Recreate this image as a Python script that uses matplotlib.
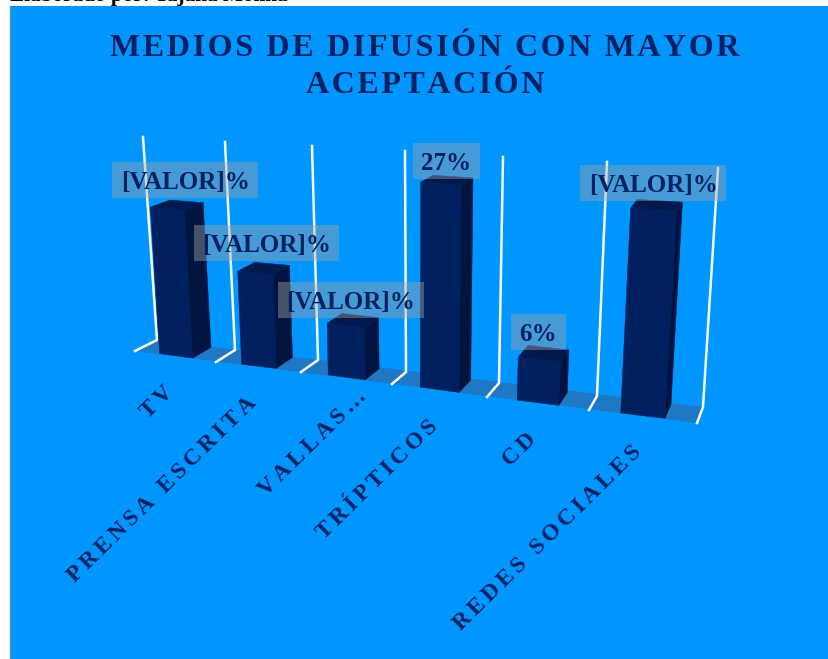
import numpy as np
import matplotlib
matplotlib.use("Agg")
import matplotlib.pyplot as plt
from matplotlib.patches import Rectangle

# ---- data ----
categories = ["TV", "PRENSA ESCRITA", "VALLAS…", "TRÍPTICOS", "CD", "REDES SOCIALES"]
values = [21, 13, 7, 27, 5.5, 25.5]
value_labels = ["[VALOR]%", "[VALOR]%", "[VALOR]%", "27%", "6%", "[VALOR]%"]
title_lines = ["MEDIOS DE DIFUSIÓN CON MAYOR", "ACEPTACIÓN"]
source_note = "Elaborado por: Tajana Molina"
value_max = 30

# ---- perspective layout (pixel frame of the 3-D scene) ----
slots = np.arange(7)
front_x = [135, 216, 301, 392, 487, 589, 697]
front_y = [351, 362, 372, 384, 397, 410, 423]
back_x = [157, 235, 318, 406, 499, 597, 703]
back_y = [340, 350, 360, 372, 383, 396, 407]
top_x = [143, 225, 312, 405, 503, 607, 718]
top_y = [137, 142, 146, 151, 157, 162, 168]
label_dx = [-2.5, -6.5, -10.5, -7.5, -11, -7.5]
label_dy = [2, 2, 8, 8, 8, 6]
cat_shift = [0, 0, 22, 0, 0, 0]

BG = "#0096FF"
FLOOR = "#1F78C4"
NAVY = "#002060"
SIDE = "#00143F"
TOP = "#001A4E"
SERIF = ["Liberation Serif", "DejaVu Serif"]
HS = "\u200a"


def spaced(s, n=1):
    return (HS * n).join(s)


def project(u, d, v):
    """Map slot position u, depth d (0 front, 1 back) and value v to pixels."""
    fx, fy = np.interp(u, slots, front_x), np.interp(u, slots, front_y)
    bx, by = np.interp(u, slots, back_x), np.interp(u, slots, back_y)
    tx, ty = np.interp(u, slots, top_x), np.interp(u, slots, top_y)
    k = (v / value_max) * (1 + 0.025 * (1 - d))
    return (fx + (bx - fx) * d + k * (tx - bx), fy + (by - fy) * d + k * (ty - by))


fig = plt.figure(figsize=(8.29, 6.59), dpi=100, facecolor="white")
ax = fig.add_axes([0, 0, 1, 1])
ax.set_xlim(0, 829)
ax.set_ylim(659, 0)
ax.axis("off")
ax.add_patch(Rectangle((10, 6), 819, 653, fc=BG, ec="none", zorder=0))
ax.plot([10, 10], [6, 659], color="#5A8FC8", lw=1, zorder=0.5)

# floor
ax.fill([project(0, 0, 0)[0], project(0, 1, 0)[0], project(6, 1, 0)[0], project(6, 0, 0)[0]],
        [project(0, 0, 0)[1], project(0, 1, 0)[1], project(6, 1, 0)[1], project(6, 0, 0)[1]],
        fc=FLOOR, ec="none", zorder=1)

# grid walls
for s in slots:
    pts = [project(s, 0, 0), project(s, 1, 0), project(s, 1, value_max)]
    ax.plot(*zip(*pts), color="white", lw=1.8, zorder=2, solid_joinstyle="miter")

# bars
U0, U1, D0, D1 = 0.29, 0.70, 0.05, 0.97
for i, v in enumerate(values):
    a, b = i + U0, i + U1
    fl0, fr0, br0 = project(a, D0, 0), project(b, D0, 0), project(b, D1, 0)
    fl1, fr1, br1, bl1 = project(a, D0, v), project(b, D0, v), project(b, D1, v), project(a, D1, v)
    ax.fill(*zip(fl0, fr0, fr1, fl1), fc=NAVY, ec=NAVY, lw=0.3, zorder=3)
    ax.fill(*zip(fr0, br0, br1, fr1), fc=SIDE, ec=SIDE, lw=0.3, zorder=3)
    ax.fill(*zip(fl1, fr1, br1, bl1), fc=TOP, ec=TOP, lw=0.3, zorder=3)

# value labels with fixed-height translucent boxes
renderer = fig.canvas.get_renderer()
for i, (v, lab) in enumerate(zip(values, value_labels)):
    cx, cy = project(i + 0.5, 1.0, v)
    cx += label_dx[i]
    ytop = cy - 5 + label_dy[i]
    t = ax.text(cx, ytop - 18, lab, family=SERIF, weight="bold", size=18, color=NAVY,
                ha="center", va="center_baseline", zorder=5)
    w = t.get_window_extent(renderer).width + 17
    ax.add_patch(Rectangle((cx - w / 2, ytop - 36), w, 36, fc="#A3A3A3", alpha=0.43,
                           ec="none", zorder=4))

# category labels
for i, c in enumerate(categories):
    x, y = project(i + 0.5, 0, 0)
    ax.text(x - 5 + cat_shift[i], y + 33 - cat_shift[i] * 0.8, spaced(c, 2), family=SERIF,
            weight="bold", size=16.8, color=NAVY, rotation=44.5, rotation_mode="anchor",
            ha="right", va="center", zorder=5)

# title
for line, y in zip(title_lines, [56, 93]):
    ax.text(425, y, spaced(line, 1), family=SERIF, weight="bold", size=23, color=NAVY,
            ha="center", va="baseline", zorder=5)

ax.text(10, 1, source_note, family=SERIF, weight="bold", size=15.3, color="black",
        ha="left", va="baseline", zorder=5)

fig.savefig("out.png", dpi=100, facecolor="white")
